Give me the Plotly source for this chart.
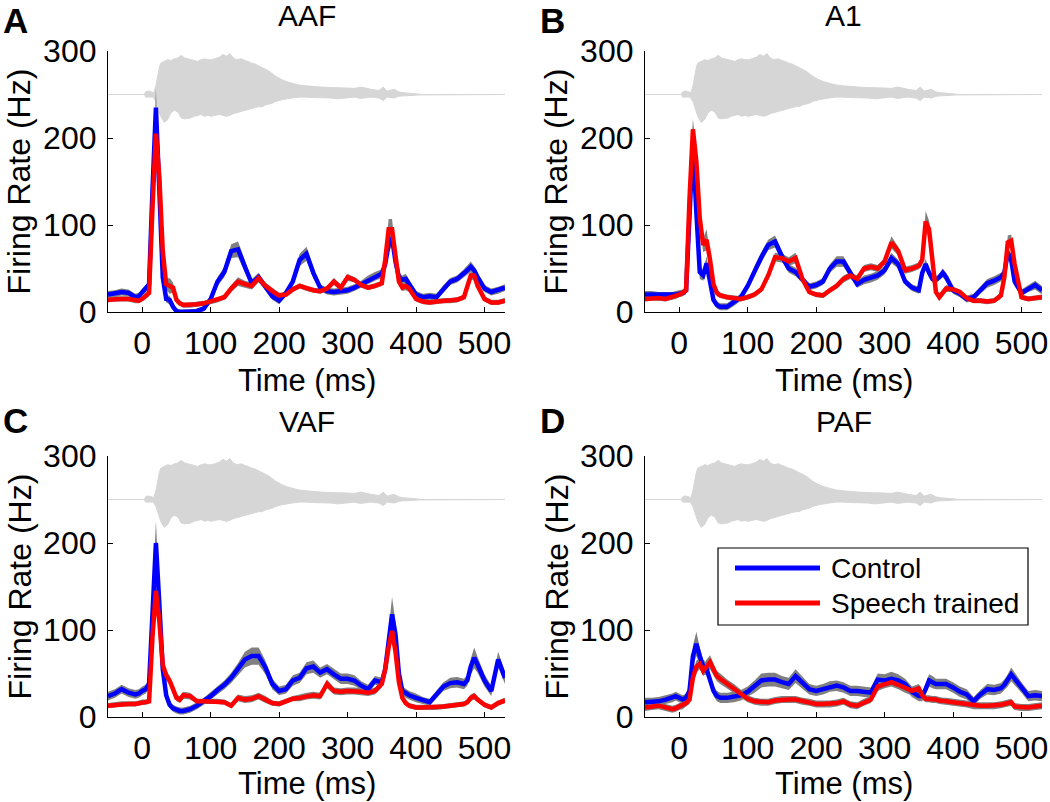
import plotly.graph_objects as go

# ---------------- data ----------------
T = [-50, -40, -30, -20, -10, -5,
     0, 5, 10, 15, 20, 25, 30, 35, 40, 45, 50, 55, 60,
     70, 80, 90, 100, 110, 120, 130, 140, 150, 160, 170, 180, 190, 200, 210, 220,
     230, 240, 250, 260, 270, 280, 290, 300, 310, 320, 330, 340, 350,
     355, 360, 365, 370, 375, 380, 385, 390,
     400, 410, 420, 430, 440, 450, 460, 470,
     475, 480, 485, 490,
     500, 510, 520, 530]

A_CONTROL = [20, 21, 23, 22, 17, 18,
             23, 26, 32, 140, 235, 140, 40, 15, 14, 6, 1, 0, 0,
             0, 1, 4, 15, 35, 46, 70, 72, 52, 33, 40, 28, 18, 13, 22, 35,
             60, 67, 45, 28, 24, 23, 24, 25, 28, 32, 37, 41, 44,
             55, 78, 85, 58, 40, 37, 38, 32,
             20, 17, 18, 17, 27, 35, 38, 44,
             48, 52, 48, 40,
             27, 23, 25, 28]
A_CONTROL_SEM = [4, 4, 4, 4, 4, 4,
                 4, 4, 5, 15, 22, 15, 6, 4, 5, 4, 3, 3, 3,
                 3, 3, 3, 4, 5, 6, 8, 9, 7, 5, 5, 4, 4, 4, 4, 5,
                 7, 8, 6, 4, 4, 4, 4, 4, 4, 4, 5, 5, 5,
                 6, 8, 10, 8, 5, 5, 6, 5,
                 4, 4, 4, 4, 4, 4, 4, 5,
                 5, 6, 5, 5,
                 4, 4, 4, 4]
A_TRAINED = [14, 15, 15, 15, 13, 13,
             15, 18, 22, 120, 205, 155, 70, 32, 30, 28, 14, 10, 8,
             8, 9, 10, 12, 14, 17, 27, 35, 32, 30, 39, 30, 24, 19, 20, 26,
             30, 27, 25, 24, 27, 35, 28, 40, 37, 31, 28, 30, 33,
             60, 95, 95, 62, 35, 28, 30, 27,
             15, 12, 11, 12, 13, 13, 14, 17,
             28, 42, 42, 30,
             15, 11, 11, 13]
A_TRAINED_SEM = [3, 3, 3, 3, 3, 3,
                 3, 3, 4, 10, 14, 10, 6, 6, 9, 6, 4, 3, 3,
                 3, 3, 3, 3, 3, 3, 4, 5, 4, 4, 5, 4, 4, 3, 3, 3,
                 3, 3, 3, 3, 3, 4, 4, 4, 3, 3, 3, 3, 3,
                 6, 12, 12, 8, 4, 4, 5, 4,
                 3, 3, 3, 3, 3, 3, 3, 3,
                 4, 5, 5, 4,
                 3, 3, 3, 3]

B_CONTROL = [20, 20, 19, 19, 19, 20,
             21, 22, 25, 110, 195, 115, 46, 42, 56, 35, 14, 8, 6,
             6, 11, 17, 30, 48, 63, 77, 81, 64, 50, 46, 37, 29, 31, 35, 50,
             58, 58, 45, 32, 37, 39, 42, 48, 62, 55, 35, 28, 25,
             45, 55, 45, 38, 37, 40, 45, 40,
             25, 21, 15, 17, 25, 33, 36, 40,
             45, 68, 60, 35,
             22, 27, 31, 25]
B_CONTROL_SEM = [4, 4, 4, 4, 4, 4,
                 4, 4, 5, 15, 20, 15, 8, 6, 8, 6, 4, 4, 4,
                 4, 4, 4, 4, 5, 6, 6, 7, 6, 5, 5, 4, 4, 4, 4, 5,
                 6, 6, 5, 4, 5, 5, 5, 5, 6, 5, 4, 4, 4,
                 5, 6, 5, 4, 4, 4, 5, 5,
                 4, 4, 4, 4, 4, 5, 5, 5,
                 5, 6, 6, 5,
                 4, 4, 5, 5]
B_TRAINED = [15, 16, 16, 15, 17, 18,
             20, 22, 25, 130, 210, 173, 108, 77, 83, 60, 32, 22, 19,
             17, 16, 15, 17, 20, 26, 42, 63, 62, 58, 62, 38, 23, 20, 19, 25,
             30, 38, 42, 38, 50, 52, 50, 58, 80, 70, 48, 50, 53,
             60, 104, 95, 60, 23, 17, 22, 27,
             26, 23, 16, 13, 13, 12, 13, 19,
             40, 80, 82, 55,
             17, 15, 16, 17]
B_TRAINED_SEM = [3, 3, 3, 3, 3, 3,
                 3, 3, 4, 10, 12, 10, 8, 8, 12, 8, 5, 4, 3,
                 3, 3, 3, 3, 3, 3, 4, 5, 5, 5, 6, 4, 3, 3, 3, 3,
                 3, 4, 4, 4, 4, 4, 4, 4, 7, 5, 4, 4, 4,
                 6, 12, 10, 6, 4, 4, 4, 4,
                 3, 3, 3, 3, 3, 3, 3, 4,
                 6, 8, 7, 5,
                 3, 3, 3, 3]

C_CONTROL = [24, 27, 32, 28, 26, 27,
             30, 32, 38, 120, 200, 130, 55, 25, 14, 10, 8, 7, 7,
             9, 13, 18, 24, 31, 37, 45, 55, 66, 70, 70, 57, 38, 30, 32, 42,
             45, 56, 58, 51, 55, 49, 44, 44, 42, 36, 32, 42, 40,
             55, 85, 118, 95, 50, 30, 27, 25,
             22, 19, 17, 26, 35, 39, 40, 38,
             42, 58, 68, 60,
             42, 30, 66, 45]
C_CONTROL_SEM = [5, 5, 5, 5, 5, 5,
                 5, 5, 6, 18, 25, 18, 8, 5, 4, 4, 4, 4, 4,
                 4, 4, 4, 5, 5, 5, 6, 7, 9, 10, 10, 8, 6, 5, 5, 6,
                 6, 7, 7, 6, 6, 6, 6, 6, 6, 5, 5, 5, 5,
                 8, 12, 20, 14, 8, 5, 5, 5,
                 5, 4, 4, 5, 5, 6, 6, 6,
                 6, 9, 12, 9,
                 7, 6, 9, 7]
C_TRAINED = [13, 14, 15, 15, 15, 16,
             17, 17, 18, 92, 145, 110, 60, 48, 42, 32, 22, 20, 25,
             24, 18, 18, 18, 18, 17, 13, 22, 20, 21, 24, 20, 16, 15, 18, 21,
             22, 24, 25, 24, 38, 30, 29, 30, 30, 29, 28, 30, 38,
             55, 80, 99, 75, 40, 22, 16, 13,
             11, 11, 11, 11, 12, 13, 14, 15,
             17, 22, 24, 20,
             14, 11, 16, 19]
C_TRAINED_SEM = [3, 3, 3, 3, 3, 3,
                 3, 3, 3, 8, 10, 8, 6, 6, 5, 4, 4, 4, 4,
                 4, 3, 3, 3, 3, 3, 3, 4, 4, 4, 4, 4, 3, 3, 3, 3,
                 4, 4, 4, 4, 5, 4, 4, 4, 4, 4, 4, 4, 4,
                 5, 7, 8, 7, 5, 3, 3, 3,
                 3, 3, 3, 3, 3, 3, 3, 3,
                 3, 4, 4, 3,
                 3, 3, 3, 3]

D_CONTROL = [17, 17, 18, 20, 22, 24,
             22, 20, 22, 30, 70, 84, 70, 58, 55, 42, 30, 24, 22,
             22, 23, 25, 29, 35, 42, 43, 43, 40, 38, 47, 40, 32, 30, 32, 35,
             36, 34, 30, 30, 29, 28, 43, 42, 44, 42, 38, 29, 24,
             24, 32, 42, 40, 38, 38, 38, 38,
             34, 29, 26, 18, 26, 32, 31, 33,
             37, 42, 49, 44,
             34, 24, 25, 24]
D_CONTROL_SEM = [5, 5, 5, 5, 5, 5,
                 5, 5, 5, 8, 12, 14, 10, 8, 7, 6, 6, 6, 6,
                 6, 6, 6, 6, 7, 8, 8, 8, 7, 7, 8, 7, 6, 6, 6, 6,
                 6, 6, 6, 6, 6, 6, 7, 7, 8, 7, 6, 6, 6,
                 6, 6, 7, 7, 6, 6, 6, 6,
                 6, 6, 6, 5, 5, 6, 6, 6,
                 6, 7, 8, 7,
                 6, 6, 6, 6]
D_TRAINED = [11, 12, 13, 11, 9, 10,
             12, 13, 16, 20, 45, 58, 61, 53, 58, 63, 55, 47, 44,
             38, 33, 27, 21, 18, 17, 17, 19, 20, 20, 20, 18, 17, 15, 15, 15,
             16, 18, 14, 13, 17, 20, 35, 38, 40, 37, 33, 30, 33,
             25, 21, 21, 20, 20, 19, 18, 18,
             17, 16, 15, 13, 13, 13, 13, 14,
             15, 16, 17, 12,
             11, 11, 12, 13]
D_TRAINED_SEM = [4, 4, 4, 4, 4, 4,
                 4, 4, 4, 5, 6, 7, 6, 6, 8, 8, 7, 6, 6,
                 5, 5, 5, 4, 4, 4, 4, 4, 4, 4, 4, 4, 4, 4, 4, 4,
                 4, 4, 4, 4, 4, 4, 5, 5, 5, 5, 5, 5, 5,
                 5, 4, 4, 4, 4, 4, 4, 4,
                 4, 4, 4, 4, 4, 4, 4, 4,
                 4, 4, 4, 4,
                 4, 4, 4, 4]

# speech stimulus waveform envelope (drawn around 250 Hz)
WAVE_T = [-50, 3, 5, 8, 12, 15, 17, 20, 22, 25, 27, 32, 37, 42, 47, 52, 57, 62, 66,
          71, 76, 81, 86, 91, 96, 101, 106, 113, 118, 123, 128, 133, 138, 145, 150,
          155, 160, 165, 170, 175, 180, 185, 190, 195, 204, 210, 219, 229, 239, 250,
          261, 275, 286, 298, 310, 319, 334, 346, 352, 358, 368, 375, 382, 390, 397,
          404, 410, 530]
WAVE_UPPER = [250, 250, 253, 254, 253.5, 253, 252, 260, 269, 281, 286, 288, 290, 289, 291,
              292, 295, 292, 291, 290, 289, 288, 290, 291, 290, 290, 291, 293, 296, 294,
              297, 292, 290, 291, 289, 288, 286, 285, 283, 281, 279, 277, 274, 271, 267,
              265, 263, 261, 260, 259, 258.5, 258, 258, 257.5, 257, 258.5, 256, 254.5,
              258.5, 254, 256, 253, 252, 251.5, 251, 250.8, 250, 250]
WAVE_LOWER = [250, 250, 247, 246.5, 247, 247, 246, 242, 238, 230, 225, 218, 221, 229, 232,
              230, 223, 222, 222, 223, 225, 226, 227, 225, 226, 225, 226, 227, 226, 225,
              226, 228, 229, 231, 232, 233, 234, 235, 236, 236, 238, 239, 240, 242, 244,
              245, 246, 247, 247, 246.5, 246, 246, 245, 246, 247, 245.5, 247, 246, 243,
              247, 246, 248, 248.5, 249, 249, 249.5, 250, 250]

PANEL_LETTERS = ["A", "B", "C", "D"]
PANEL_TITLES = ["AAF", "A1", "VAF", "PAF"]
X_TICKS = [0, 100, 200, 300, 400, 500]
Y_TICKS = [0, 100, 200, 300]
SERIES_NAMES = ["Control", "Speech trained"]

panels = [
    (A_CONTROL, A_CONTROL_SEM, A_TRAINED, A_TRAINED_SEM),
    (B_CONTROL, B_CONTROL_SEM, B_TRAINED, B_TRAINED_SEM),
    (C_CONTROL, C_CONTROL_SEM, C_TRAINED, C_TRAINED_SEM),
    (D_CONTROL, D_CONTROL_SEM, D_TRAINED, D_TRAINED_SEM),
]

# ---------------- styling / layout ----------------
W, H = 1050, 802
FONT = "Liberation Sans, Arial, Helvetica, sans-serif"
BLUE = "#0000ff"
RED = "#ff0000"
BAND = "#808080"
WAVE = "#d6d6d6"
TICK_SIZE = 32
AXTITLE_SIZE = 31
TITLE_SIZE = 30
LEGEND_SIZE = 28

# pixel boxes of the four plot areas: (left, right, top, bottom)
BOXES = [(108, 505, 51, 312), (645, 1042, 51, 312),
         (108, 505, 456, 717), (645, 1042, 456, 717)]


def px(x):
    return x / W


def py(y):
    return 1 - y / H


fig = go.Figure()

for i, (ctl, ctl_sem, trn, trn_sem) in enumerate(panels):
    xa = "x" if i == 0 else f"x{i + 1}"
    ya = "y" if i == 0 else f"y{i + 1}"
    # stimulus waveform
    fig.add_trace(go.Scatter(
        x=WAVE_T + WAVE_T[::-1], y=WAVE_UPPER + WAVE_LOWER[::-1],
        fill="toself", fillcolor=WAVE, mode="lines",
        line=dict(color=WAVE, width=1), hoverinfo="skip", showlegend=False,
        xaxis=xa, yaxis=ya))
    # SEM bands
    for mean, sem in ((ctl, ctl_sem), (trn, trn_sem)):
        up = [m + s for m, s in zip(mean, sem)]
        lo = [m - s for m, s in zip(mean, sem)]
        fig.add_trace(go.Scatter(
            x=T + T[::-1], y=up + lo[::-1], fill="toself", fillcolor=BAND,
            mode="lines", line=dict(width=0, color=BAND), hoverinfo="skip",
            showlegend=False, xaxis=xa, yaxis=ya))
    # mean lines
    fig.add_trace(go.Scatter(x=T, y=ctl, mode="lines", name=SERIES_NAMES[0],
                             line=dict(color=BLUE, width=4.5), showlegend=False,
                             xaxis=xa, yaxis=ya))
    fig.add_trace(go.Scatter(x=T, y=trn, mode="lines", name=SERIES_NAMES[1],
                             line=dict(color=RED, width=4.5), showlegend=False,
                             xaxis=xa, yaxis=ya))

axis_common = dict(showgrid=False, zeroline=False, showline=True, linecolor="black",
                   linewidth=1.2, ticks="inside", ticklen=5, tickwidth=1,
                   tickcolor="black", mirror=False, automargin=False,
                   tickfont=dict(family=FONT, size=TICK_SIZE, color="black"))

layout = dict(width=W, height=H, margin=dict(l=0, r=0, t=0, b=0),
              paper_bgcolor="white", plot_bgcolor="white", showlegend=False,
              font=dict(family=FONT, color="black"))

annotations = []
shapes = []
for i, (l, r, t, b) in enumerate(BOXES):
    sx = "" if i == 0 else str(i + 1)
    layout["xaxis" + sx] = dict(axis_common, domain=[px(l), px(r)], range=[-50, 530],
                                tickmode="array", tickvals=X_TICKS,
                                ticktext=[str(v) for v in X_TICKS],
                                anchor="y" + sx, ticklabelstandoff=2)
    layout["yaxis" + sx] = dict(axis_common, domain=[py(b), py(t)], range=[0, 300],
                                tickmode="array", tickvals=Y_TICKS,
                                ticktext=[str(v) for v in Y_TICKS],
                                anchor="x" + sx, ticklabelstandoff=4)
    cx = (l + r) / 2
    # panel title
    annotations.append(dict(x=px(cx), y=py(t - 35), xref="paper", yref="paper",
                            text=PANEL_TITLES[i], showarrow=False,
                            font=dict(family=FONT, size=TITLE_SIZE, color="black"),
                            xanchor="center", yanchor="middle"))
    # panel letter
    if i < 2:
        annotations.append(dict(x=px(l - 93), y=1, xref="paper", yref="paper",
                                text="<b>" + PANEL_LETTERS[i] + "</b>", showarrow=False,
                                font=dict(family=FONT, size=35, color="black"),
                                xanchor="center", yanchor="top", borderpad=0))
    else:
        annotations.append(dict(x=px(l - 93), y=py(t - 36), xref="paper", yref="paper",
                                text="<b>" + PANEL_LETTERS[i] + "</b>", showarrow=False,
                                font=dict(family=FONT, size=35, color="black"),
                                xanchor="center", yanchor="middle"))
    # x axis title
    if i < 2:
        annotations.append(dict(x=px(cx), y=py(b + 68), xref="paper", yref="paper",
                                text="Time (ms)", showarrow=False,
                                font=dict(family=FONT, size=AXTITLE_SIZE, color="black"),
                                xanchor="center", yanchor="middle"))
    else:
        annotations.append(dict(x=px(cx), y=0, xref="paper", yref="paper",
                                text="Time (ms)", showarrow=False, borderpad=0,
                                font=dict(family=FONT, size=AXTITLE_SIZE, color="black"),
                                xanchor="center", yanchor="bottom"))
    # y axis title
    annotations.append(dict(x=px(l - 89), y=py((t + b) / 2), xref="paper", yref="paper",
                            text="Firing Rate (Hz)", showarrow=False, textangle=-90,
                            font=dict(family=FONT, size=AXTITLE_SIZE + 1, color="black"),
                            xanchor="center", yanchor="middle"))

# legend (inside panel D)
shapes.append(dict(type="rect", xref="paper", yref="paper", x0=px(718), x1=px(1028),
                   y0=py(625), y1=py(548), line=dict(color="black", width=1.2),
                   fillcolor="white"))
for yy, col, name in ((568, BLUE, SERIES_NAMES[0]), (603, RED, SERIES_NAMES[1])):
    shapes.append(dict(type="line", xref="paper", yref="paper", x0=px(735), x1=px(820),
                       y0=py(yy), y1=py(yy), line=dict(color=col, width=5)))
    annotations.append(dict(x=px(829), y=py(yy), xref="paper", yref="paper", text=name,
                            showarrow=False, xanchor="left", yanchor="middle",
                            font=dict(family=FONT, size=LEGEND_SIZE, color="black")))

layout["annotations"] = annotations
layout["shapes"] = shapes
fig.update_layout(**layout)

fig.write_html("out.html", config={"displayModeBar": False},
               post_script="document.body.style.margin='0';")
